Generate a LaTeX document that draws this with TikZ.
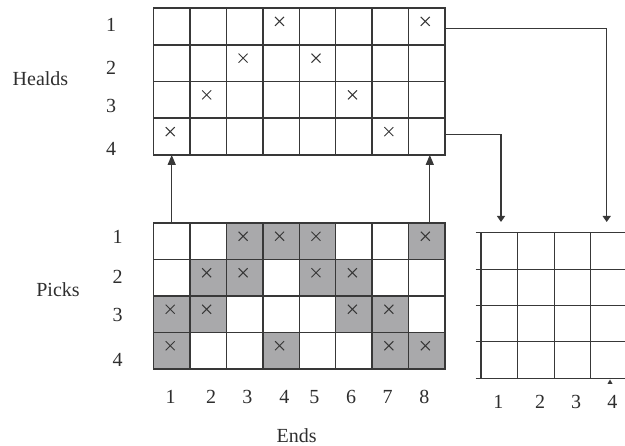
\documentclass[tikz,border=0pt]{standalone}
\usepackage{fontspec}
\setmainfont{Liberation Serif}
\usetikzlibrary{arrows.meta,calc}
\definecolor{gline}{HTML}{383838}
\definecolor{gfill}{HTML}{A9A9AB}
\definecolor{txt}{HTML}{2E2E2E}
\tikzset{
  cell/.style={draw=gline,line width=1.4pt,minimum width=36.44pt,minimum height=36.6pt,inner sep=0pt,outer sep=0pt},
  shade/.style={cell,fill=gfill},
  blank/.style={inner sep=0pt,outer sep=0pt,minimum width=36.6pt,minimum height=36.5pt},
  gl/.style={draw=gline,line width=1.4pt},
  lab/.style={text=txt,inner sep=0pt,font=\fontsize{20}{22}\selectfont},
  conn/.style={draw=gline,line width=1.3pt},
  uparrow/.style={conn,-{Triangle[width=8pt,length=10pt]}},
  downarrow/.style={conn,-{Triangle[width=8pt,length=6pt]}},
  xm/.pic={\draw[gline,line width=1pt] (-4.5,-4.5) -- (4.5,4.5) (-4.5,4.5) -- (4.5,-4.5);}
}
\begin{document}
\begin{tikzpicture}[x=1pt,y=-1pt]
\useasboundingbox (0,0) rectangle (625,446);
% top grid (healds)
\foreach \r in {1,...,4}{
  \foreach \c in {1,...,8}{
    \node[cell] (t-\r-\c) at ({153.5+(\c-0.5)*36.44},{8+(\r-0.5)*36.75}) {};
  }
}
\foreach \r/\c in {1/4,1/8,2/3,2/5,3/2,3/6,4/1,4/7}{
  \pic at ($(t-\r-\c.center)+(-1.5,-5)$) {xm};
}
% bottom grid (picks)
\foreach \r in {1,...,4}{
  \foreach \c in {1,...,8}{
    \node[cell] (b-\r-\c) at ({153.5+(\c-0.5)*36.44},{223+(\r-0.5)*36.5}) {};
  }
}
\foreach \r/\c in {1/3,1/4,1/5,1/8,2/2,2/3,2/5,2/6,3/1,3/2,3/6,3/7,4/1,4/4,4/7,4/8}{
  \node[shade] at (b-\r-\c.center) {};
  \pic at ($(b-\r-\c.center)+(-1.5,-5)$) {xm};
}
% right grid
\foreach \r in {1,...,4}{
  \foreach \c in {1,...,4}{
    \node[blank] (w-\r-\c) at ({481+(\c-0.5)*36.6},{232.3+(\r-0.5)*36.5}) {};
  }
}
\foreach \y in {232.3,269.3,305.7,341.7,378.3}{
  \draw[gl] (475.7,\y) -- (626,\y);
}
\foreach \x in {481,517.7,554.3,590.7}{
  \draw[gl] (\x,232.3) -- (\x,378.3);
}
\fill[gline] (607.5,383.8) -- (612.5,383.8) -- (610,379.5) -- cycle;
% connectors
\draw[uparrow] (b-1-1.north) -- (t-4-1.south);
\draw[uparrow] ([xshift=3pt]b-1-8.north) -- ([xshift=3pt]t-4-8.south);
\coordinate (d1) at (501,222);
\coordinate (d4) at (606.7,222);
\draw[downarrow] ([yshift=-1.8pt]t-1-8.east) -| (d4);
\draw[downarrow] ([yshift=1.8pt]t-4-8.east) -| (d1);
% labels
\node[lab] (hl) at (40.5,79) {Healds};
\node[lab] (pl) at (58,290) {Picks};
\node[lab] (el) at (296.7,436) {Ends};
\foreach \i/\y in {1/25,2/68,3/106,4/149}{
  \node[lab] (hr-\i) at (111,\y) {\i};
}
\foreach \i/\y in {1/237,2/277,3/315,4/360}{
  \node[lab] (pr-\i) at (117.5,\y) {\i};
}
\foreach \i/\x in {1/170.7,2/211,3/247.3,4/284.3,5/314.3,6/351,7/387.7,8/424.3}{
  \node[lab] (ec-\i) at (\x,396.7) {\i};
}
\foreach \i/\x in {1/498.3,2/540,3/576,4/612.3}{
  \node[lab] (wc-\i) at (\x,401.7) {\i};
}
\end{tikzpicture}
\end{document}
